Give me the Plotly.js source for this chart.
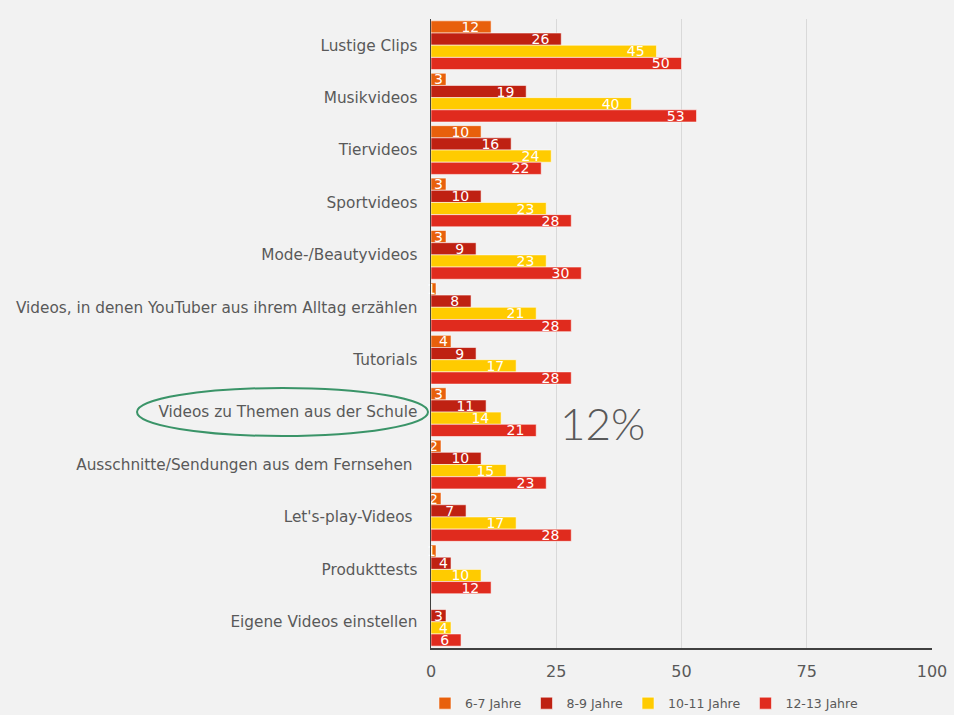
<!DOCTYPE html>
<html>
<head>
<meta charset="utf-8">
<script src="https://cdn.plot.ly/plotly-3.0.1.min.js"></script>
<style>html,body{margin:0;padding:0;background:#f2f2f2;}#chart{width:954px;height:715px;}</style>
</head>
<body>
<div id="chart"></div>
<script>
const categories = [
  "Lustige Clips",
  "Musikvideos",
  "Tiervideos",
  "Sportvideos",
  "Mode-/Beautyvideos",
  "Videos, in denen YouTuber aus ihrem Alltag erzählen",
  "Tutorials",
  "Videos zu Themen aus der Schule",
  "Ausschnitte/Sendungen aus dem Fernsehen ",
  "Let's-play-Videos ",
  "Produkttests",
  "Eigene Videos einstellen"
];
const seriesNames = ["6-7 Jahre", "8-9 Jahre", "10-11 Jahre", "12-13 Jahre"];
const age6_7   = [12, 3, 10, 3, 3, 1, 4, 3, 2, 2, 1, null];
const age8_9   = [26, 19, 16, 10, 9, 8, 9, 11, 10, 7, 4, 3];
const age10_11 = [45, 40, 24, 23, 23, 21, 17, 14, 15, 17, 10, 4];
const age12_13 = [50, 53, 22, 28, 30, 28, 28, 21, 23, 28, 12, 6];
const xTicks = [0, 25, 50, 75, 100];
const highlightLabel = "12%";

const colors = ["#E8600C", "#BF2112", "#FFCB00", "#E02B1E"];
const seriesValues = [age6_7, age8_9, age10_11, age12_13];

const fontFam = "DejaVu Sans, Liberation Sans, sans-serif";

const traces = seriesValues.map((vals, i) => ({
  type: "bar",
  orientation: "h",
  name: seriesNames[i],
  y: categories,
  x: vals,
  marker: { color: colors[i], line: { color: "rgba(255,255,255,0.55)", width: 1 } },
  texttemplate: vals.map(v => v === null ? "" : (v >= 6 ? "%{x}\u00a0\u00a0" : "%{x}")),
  textposition: "inside",
  insidetextanchor: "end",
  constraintext: "none",
  textangle: 0,
  insidetextfont: { color: "#ffffff", size: 14, family: fontFam },
  cliponaxis: false,
  hoverinfo: "x+name"
}));

const layout = {
  width: 954,
  height: 715,
  paper_bgcolor: "#f2f2f2",
  plot_bgcolor: "#f2f2f2",
  margin: { l: 431, r: 22, t: 19, b: 67, autoexpand: false },
  barmode: "group",
  bargap: 0.07,
  bargroupgap: 0,
  font: { family: fontFam, color: "#595959" },
  xaxis: {
    range: [0, 100],
    tickvals: xTicks,
    ticktext: xTicks.map(String),
    showgrid: true,
    gridcolor: "#d9d9d9",
    gridwidth: 1,
    zeroline: false,
    showline: true,
    linecolor: "#404040",
    linewidth: 1.5,
    ticks: "outside",
    ticklen: 8,
    tickcolor: "rgba(0,0,0,0)",
    tickfont: { size: 16, color: "#595959", family: fontFam },
    fixedrange: true
  },
  yaxis: {
    autorange: "reversed",
    showgrid: false,
    zeroline: false,
    showline: true,
    linecolor: "#404040",
    linewidth: 1.5,
    ticks: "outside",
    ticklen: 9,
    tickcolor: "rgba(0,0,0,0)",
    tickfont: { size: 15.3, color: "#595959", family: fontFam },
    fixedrange: true
  },
  showlegend: true,
  legend: {
    orientation: "h",
    x: -0.012,
    xanchor: "left",
    yref: "container",
    y: 0.037,
    yanchor: "top",
    font: { size: 12.5, color: "#595959", family: fontFam },
    bgcolor: "rgba(0,0,0,0)",
    traceorder: "normal"
  },
  shapes: [{
    type: "circle",
    xref: "paper", yref: "paper",
    x0: (137 - 431) / 501, x1: (428 - 431) / 501,
    y0: (648 - 436) / 629, y1: (648 - 388) / 629,
    line: { color: "#3A9468", width: 2 },
    fillcolor: "rgba(0,0,0,0)"
  }],
  annotations: [{
    text: highlightLabel,
    xref: "paper", yref: "paper",
    x: (602 - 431) / 501, y: (648 - 423) / 629,
    xanchor: "center", yanchor: "middle",
    showarrow: false,
    font: { size: 44, color: "#595959", family: "Lato, Liberation Sans, sans-serif", weight: 300 }
  }]
};

Plotly.newPlot("chart", traces, layout, { displayModeBar: false, staticPlot: true });
</script>
</body>
</html>
